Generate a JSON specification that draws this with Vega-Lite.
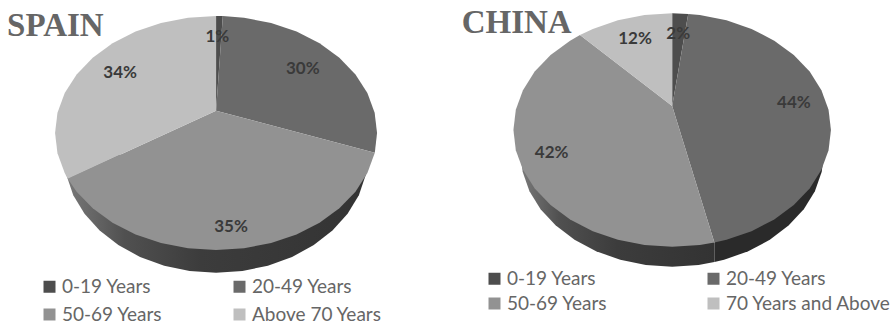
{
"$schema":"https://vega.github.io/schema/vega-lite/v6.json",
"padding":0,"spacing":0,"background":"white",
"config":{"view":{"stroke":null}},
"resolve":{"scale":{"color":"independent"},"legend":{"color":"independent"}},
"datasets":{
"spainTop":[
{"slice":"0-19 Years","i":0,"x":0,"y":13.9},{"slice":"0-19 Years","i":1,"x":0,"y":72.7},{"slice":"0-19 Years","i":2,"x":4.2,"y":72.6},
{"slice":"20-49 Years","i":0,"x":0,"y":13.9},{"slice":"20-49 Years","i":1,"x":4.2,"y":72.6},{"slice":"20-49 Years","i":2,"x":17.4,"y":71.6},{"slice":"20-49 Years","i":3,"x":34.2,"y":68.3},{"slice":"20-49 Years","i":4,"x":50,"y":63},{"slice":"20-49 Years","i":5,"x":64.3,"y":55.7},{"slice":"20-49 Years","i":6,"x":76.6,"y":46.7},{"slice":"20-49 Years","i":7,"x":86.6,"y":36.4},{"slice":"20-49 Years","i":8,"x":94,"y":24.9},{"slice":"20-49 Years","i":9,"x":98.5,"y":12.6},{"slice":"20-49 Years","i":10,"x":100,"y":0},{"slice":"20-49 Years","i":11,"x":98.6,"y":-12.2},
{"slice":"50-69 Years","i":0,"x":0,"y":13.9},{"slice":"50-69 Years","i":1,"x":98.6,"y":-12.2},{"slice":"50-69 Years","i":2,"x":94,"y":-24.9},{"slice":"50-69 Years","i":3,"x":86.6,"y":-36.4},{"slice":"50-69 Years","i":4,"x":76.6,"y":-46.7},{"slice":"50-69 Years","i":5,"x":64.3,"y":-55.7},{"slice":"50-69 Years","i":6,"x":50,"y":-63},{"slice":"50-69 Years","i":7,"x":34.2,"y":-68.3},{"slice":"50-69 Years","i":8,"x":17.4,"y":-71.6},{"slice":"50-69 Years","i":9,"x":0,"y":-72.7},{"slice":"50-69 Years","i":10,"x":-17.4,"y":-71.6},{"slice":"50-69 Years","i":11,"x":-34.2,"y":-68.3},{"slice":"50-69 Years","i":12,"x":-50,"y":-63},{"slice":"50-69 Years","i":13,"x":-64.3,"y":-55.7},{"slice":"50-69 Years","i":14,"x":-76.6,"y":-46.7},{"slice":"50-69 Years","i":15,"x":-86.6,"y":-36.4},{"slice":"50-69 Years","i":16,"x":-92.1,"y":-28.4},
{"slice":"Above 70 Years","i":0,"x":0,"y":13.9},{"slice":"Above 70 Years","i":1,"x":-92.1,"y":-28.4},{"slice":"Above 70 Years","i":2,"x":-94,"y":-24.9},{"slice":"Above 70 Years","i":3,"x":-98.5,"y":-12.6},{"slice":"Above 70 Years","i":4,"x":-100,"y":0},{"slice":"Above 70 Years","i":5,"x":-98.5,"y":12.6},{"slice":"Above 70 Years","i":6,"x":-94,"y":24.9},{"slice":"Above 70 Years","i":7,"x":-86.6,"y":36.4},{"slice":"Above 70 Years","i":8,"x":-76.6,"y":46.7},{"slice":"Above 70 Years","i":9,"x":-64.3,"y":55.7},{"slice":"Above 70 Years","i":10,"x":-50,"y":63},{"slice":"Above 70 Years","i":11,"x":-34.2,"y":68.3},{"slice":"Above 70 Years","i":12,"x":-17.4,"y":71.6},{"slice":"Above 70 Years","i":13,"x":0,"y":72.7}
],
"spainSide":[
{"i":0,"x":94.4,"y":-13.5},{"i":1,"x":92.9,"y":-26.2},{"i":2,"x":88.7,"y":-38.6},{"i":3,"x":81.7,"y":-50.2},{"i":4,"x":72.3,"y":-60.6},{"i":5,"x":60.7,"y":-69.6},{"i":6,"x":47.2,"y":-77},{"i":7,"x":32.2,"y":-82.4},{"i":8,"x":16.4,"y":-85.7},{"i":9,"x":0,"y":-86.8},{"i":10,"x":-16.4,"y":-85.7},{"i":11,"x":-32.2,"y":-82.4},{"i":12,"x":-47.2,"y":-77},{"i":13,"x":-60.7,"y":-69.6},{"i":14,"x":-72.3,"y":-60.6},{"i":15,"x":-81.7,"y":-50.2},{"i":16,"x":-88.7,"y":-38.6},{"i":17,"x":-92.9,"y":-26.2},{"i":18,"x":-94.4,"y":-13.5}
],
"spainText":[
{"label":"1%","x":0.8,"y":59.8},{"label":"30%","x":53.9,"y":39.6},{"label":"35%","x":9.3,"y":-58.6},{"label":"34%","x":-59.6,"y":37.4}
],
"chinaTop":[
{"slice":"0-19 Years","i":0,"x":0,"y":15.1},{"slice":"0-19 Years","i":1,"x":0,"y":73.5},{"slice":"0-19 Years","i":2,"x":10.1,"y":73.1},
{"slice":"20-49 Years","i":0,"x":0,"y":15.1},{"slice":"20-49 Years","i":1,"x":10.1,"y":73.1},{"slice":"20-49 Years","i":2,"x":17.4,"y":72.4},{"slice":"20-49 Years","i":3,"x":34.2,"y":69.1},{"slice":"20-49 Years","i":4,"x":50,"y":63.7},{"slice":"20-49 Years","i":5,"x":64.3,"y":56.3},{"slice":"20-49 Years","i":6,"x":76.6,"y":47.2},{"slice":"20-49 Years","i":7,"x":86.6,"y":36.8},{"slice":"20-49 Years","i":8,"x":94,"y":25.1},{"slice":"20-49 Years","i":9,"x":98.5,"y":12.8},{"slice":"20-49 Years","i":10,"x":100,"y":0},{"slice":"20-49 Years","i":11,"x":98.5,"y":-12.8},{"slice":"20-49 Years","i":12,"x":94,"y":-25.1},{"slice":"20-49 Years","i":13,"x":86.6,"y":-36.8},{"slice":"20-49 Years","i":14,"x":76.6,"y":-47.2},{"slice":"20-49 Years","i":15,"x":64.3,"y":-56.3},{"slice":"20-49 Years","i":16,"x":50,"y":-63.7},{"slice":"20-49 Years","i":17,"x":34.2,"y":-69.1},{"slice":"20-49 Years","i":18,"x":26.6,"y":-70.9},
{"slice":"50-69 Years","i":0,"x":0,"y":15.1},{"slice":"50-69 Years","i":1,"x":26.6,"y":-70.9},{"slice":"50-69 Years","i":2,"x":17.4,"y":-72.4},{"slice":"50-69 Years","i":3,"x":0,"y":-73.5},{"slice":"50-69 Years","i":4,"x":-17.4,"y":-72.4},{"slice":"50-69 Years","i":5,"x":-34.2,"y":-69.1},{"slice":"50-69 Years","i":6,"x":-50,"y":-63.7},{"slice":"50-69 Years","i":7,"x":-64.3,"y":-56.3},{"slice":"50-69 Years","i":8,"x":-76.6,"y":-47.2},{"slice":"50-69 Years","i":9,"x":-86.6,"y":-36.8},{"slice":"50-69 Years","i":10,"x":-94,"y":-25.1},{"slice":"50-69 Years","i":11,"x":-98.5,"y":-12.8},{"slice":"50-69 Years","i":12,"x":-100,"y":0},{"slice":"50-69 Years","i":13,"x":-98.5,"y":12.8},{"slice":"50-69 Years","i":14,"x":-94,"y":25.1},{"slice":"50-69 Years","i":15,"x":-86.6,"y":36.8},{"slice":"50-69 Years","i":16,"x":-76.6,"y":47.2},{"slice":"50-69 Years","i":17,"x":-64.3,"y":56.3},{"slice":"50-69 Years","i":18,"x":-58.1,"y":59.8},
{"slice":"70 Years and Above","i":0,"x":0,"y":15.1},{"slice":"70 Years and Above","i":1,"x":-58.1,"y":59.8},{"slice":"70 Years and Above","i":2,"x":-50,"y":63.7},{"slice":"70 Years and Above","i":3,"x":-34.2,"y":69.1},{"slice":"70 Years and Above","i":4,"x":-17.4,"y":72.4},{"slice":"70 Years and Above","i":5,"x":0,"y":73.5}
],
"chinaSideLeft":[
{"i":0,"x":26.6,"y":-70.9},{"i":1,"x":26.6,"y":-83.2},{"i":2,"x":16.6,"y":-85},{"i":3,"x":0,"y":-86.1},{"i":4,"x":-16.6,"y":-85},{"i":5,"x":-32.7,"y":-81.7},{"i":6,"x":-47.9,"y":-76.4},{"i":7,"x":-61.5,"y":-69.2},{"i":8,"x":-73.3,"y":-60.2},{"i":9,"x":-82.9,"y":-49.9},{"i":10,"x":-89.9,"y":-38.5},{"i":11,"x":-94.2,"y":-26.3},{"i":12,"x":-95.7,"y":-13.7}
],
"chinaSideRight":[
{"i":0,"x":26.6,"y":-70.9},{"i":1,"x":26.6,"y":-83.2},{"i":2,"x":32.7,"y":-81.7},{"i":3,"x":47.9,"y":-76.4},{"i":4,"x":61.5,"y":-69.2},{"i":5,"x":73.3,"y":-60.2},{"i":6,"x":82.9,"y":-49.9},{"i":7,"x":89.9,"y":-38.5},{"i":8,"x":94.2,"y":-26.3},{"i":9,"x":95.7,"y":-13.7}
],
"chinaText":[
{"label":"2%","x":3.8,"y":60.5},{"label":"44%","x":76.7,"y":16.8},{"label":"42%","x":-75.9,"y":-14.3},{"label":"12%","x":-23.4,"y":57.1}
]
},
"hconcat":[
{
"width":445,"height":324,
"encoding":{
 "x":{"field":"x","type":"quantitative","scale":{"domain":[-134.2,142.2],"nice":false,"zero":false},"axis":null},
 "y":{"field":"y","type":"quantitative","scale":{"domain":[-118.6,82.6],"nice":false,"zero":false},"axis":null}},
"layer":[
{"data":{"name":"spainSide"},
 "mark":{"type":"line","filled":true,"fill":{"gradient":"linear","x1":0,"x2":1,"y1":0,"y2":0,"stops":[{"offset":0,"color":"#7a7a7a"},{"offset":0.2,"color":"#505050"},{"offset":0.45,"color":"#3c3c3c"},{"offset":1,"color":"#333333"}]}},
 "encoding":{"order":{"field":"i","type":"quantitative"}}},
{"data":{"name":"spainTop"},
 "mark":{"type":"line","filled":true},
 "encoding":{
  "order":{"field":"i","type":"quantitative"},
  "color":{"field":"slice","type":"nominal",
   "scale":{"domain":["0-19 Years","20-49 Years","50-69 Years","Above 70 Years"],"range":["#4d4d4d","#6a6a6a","#929292","#bfbfbf"]},
   "legend":{"orient":"none","direction":"horizontal","legendX":40,"legendY":277,"title":null,"columns":2,"symbolType":"square","symbolSize":144,"symbolStrokeWidth":0,"labelFont":"Lato","labelFontSize":19,"labelLimit":220,"labelColor":"#666666","rowPadding":8,"columnPadding":67,"labelOffset":3}}}},
{"data":{"name":"spainText"},
 "mark":{"type":"text","font":"Lato","fontWeight":"bold","fontSize":17,"color":"#3a3a3a"},
 "encoding":{"text":{"field":"label"}}},
{"data":{"values":[{"name":"SPAIN","x":-129.8,"y":60.2}]},
 "mark":{"type":"text","font":"Liberation Serif","fontWeight":"bold","fontSize":33,"align":"left","baseline":"alphabetic","color":"#666666"},
 "encoding":{"text":{"field":"name"}}}
]
},
{
"width":445,"height":324,
"encoding":{
 "x":{"field":"x","type":"quantitative","scale":{"domain":[-143.1,137.2],"nice":false,"zero":false},"axis":null},
 "y":{"field":"y","type":"quantitative","scale":{"domain":[-122.2,81.9],"nice":false,"zero":false},"axis":null}},
"layer":[
{"data":{"name":"chinaSideLeft"},
 "mark":{"type":"line","filled":true,"fill":{"gradient":"linear","x1":0,"x2":1,"y1":0,"y2":0,"stops":[{"offset":0,"color":"#7a7a7a"},{"offset":0.2,"color":"#505050"},{"offset":0.5,"color":"#3c3c3c"},{"offset":1,"color":"#333333"}]}},
 "encoding":{"order":{"field":"i","type":"quantitative"}}},
{"data":{"name":"chinaSideRight"},
 "mark":{"type":"line","filled":true,"color":"#2a2a2a"},
 "encoding":{"order":{"field":"i","type":"quantitative"}}},
{"data":{"name":"chinaTop"},
 "mark":{"type":"line","filled":true},
 "encoding":{
  "order":{"field":"i","type":"quantitative"},
  "color":{"field":"slice","type":"nominal",
   "scale":{"domain":["0-19 Years","20-49 Years","50-69 Years","70 Years and Above"],"range":["#4d4d4d","#6a6a6a","#929292","#bfbfbf"]},
   "legend":{"orient":"none","direction":"horizontal","legendX":40,"legendY":269,"title":null,"columns":2,"symbolType":"square","symbolSize":144,"symbolStrokeWidth":0,"labelFont":"Lato","labelFontSize":19,"labelLimit":220,"labelColor":"#666666","rowPadding":5,"columnPadding":96,"labelOffset":3}}}},
{"data":{"name":"chinaText"},
 "mark":{"type":"text","font":"Lato","fontWeight":"bold","fontSize":17,"color":"#3a3a3a"},
 "encoding":{"text":{"field":"label"}}},
{"data":{"values":[{"name":"CHINA","x":-132.6,"y":60.9}]},
 "mark":{"type":"text","font":"Liberation Serif","fontWeight":"bold","fontSize":33,"align":"left","baseline":"alphabetic","color":"#666666"},
 "encoding":{"text":{"field":"name"}}}
]
}
]
}
